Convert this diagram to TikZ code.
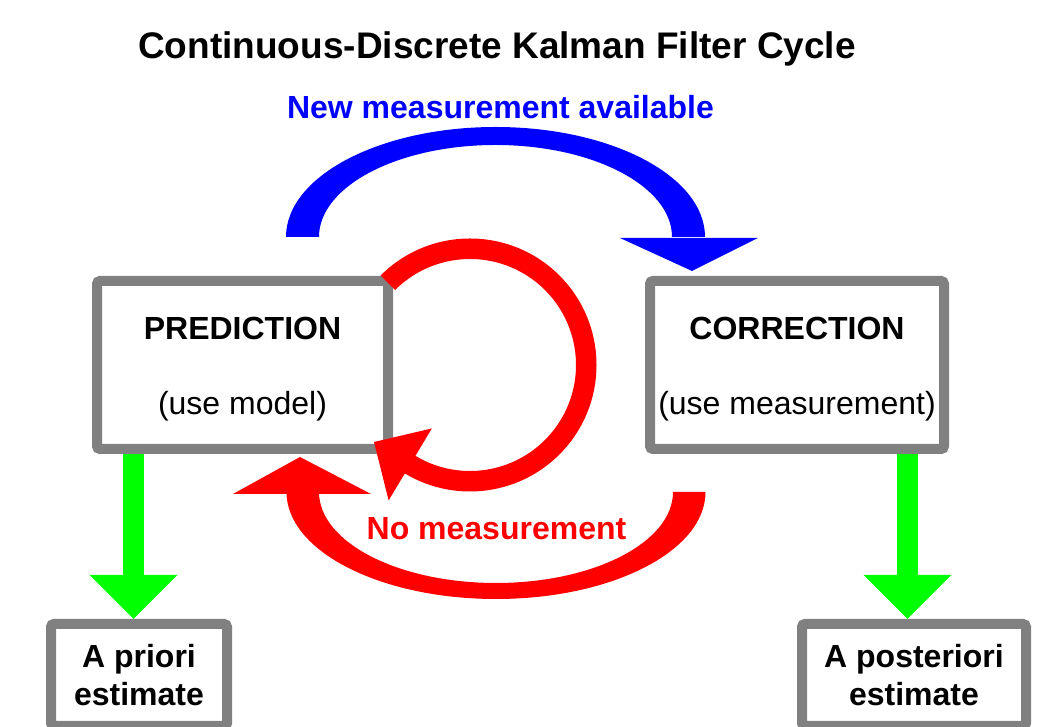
\documentclass[tikz,border=0pt]{standalone}
\usepackage{fontspec}
\setmainfont{Liberation Sans}
\usetikzlibrary{arrows.meta}
\usetikzlibrary{calc}
\newcommand{\tall}{\rule{0pt}{31pt}}
\tikzstyle{box}=[draw=gray, line width=10pt, rounded corners=3pt, fill=white, align=center, inner sep=0pt, font=\fontsize{32}{38}\selectfont]
\tikzstyle{stage}=[box, minimum height=168pt]
\tikzstyle{est}=[box, minimum height=102pt, font=\fontsize{32}{38}\selectfont\bfseries]
\tikzstyle{result}=[draw=green, line width=21pt, -{Triangle[length=44pt, width=85pt]}]
\tikzstyle{meas}=[fill=blue]
\tikzstyle{nomeas}=[fill=red]
\tikzstyle{lbl}=[anchor=base, font=\fontsize{32}{38}\selectfont\bfseries]

\begin{document}
\begin{tikzpicture}[x=1pt, y=1pt]
	\useasboundingbox (0,0) rectangle (1050,727);
	\node[lbl, font=\fontsize{37}{44}\selectfont\bfseries] (title) at (497,668) {Continuous-Discrete Kalman Filter Cycle};
	\node[stage, minimum width=291pt] (pred) at (242.5,362) {\tall\textbf{PREDICTION}\\[37pt](use model)};
	\node[stage, minimum width=294pt] (corr) at (797,362) {\tall\textbf{CORRECTION}\\[37pt](use measurement)};
	\node[est, minimum width=176pt] (apri) at (139,52) {A priori\\estimate};
	\node[est, minimum width=224pt] (post) at (914,52) {A posteriori\\estimate};
	% estimates
	\coordinate (g1) at ([xshift=-5.5pt]apri.north);
	\coordinate (g2) at ([xshift=-6.5pt]post.north);
	\draw[result] (pred.south -| g1) -- (g1);
	\draw[result] (corr.south -| g2) -- (g2);
	% new measurement
	\fill[meas] (286,490) arc[start angle=180, end angle=0, x radius=209.5, y radius=110] -- (672,490) arc[start angle=0, end angle=180, x radius=176.5, y radius=92] -- cycle;
	\fill[meas] (620,489) -- (758,489) -- (692,456) -- cycle;
	\node[lbl, text=blue] (new) at (500.5,608) {New measurement available};
	% no measurement
	\coordinate (loop) at (470,362);
	\fill[nomeas] ($(loop)+(135:126.5)$) arc[start angle=135, end angle=-123, radius=126.5] -- ($(loop)+(-123:106)$) arc[start angle=-123, end angle=135, radius=106] -- cycle;
	\fill[nomeas] ($(loop)+(-121:158)$) -- ($(loop)+(-121:74)$) -- (374,285) -- cycle;
	\fill[nomeas] (286.5,235) arc[start angle=180, end angle=360, x radius=209.5, y radius=107] -- (673,235) arc[start angle=360, end angle=180, x radius=177, y radius=91] -- cycle;
	\fill[nomeas] (233,233) -- (371,233) -- (300,270) -- cycle;
	\node[lbl, text=red] (none) at (496.5,187) {No measurement};
\end{tikzpicture}
\end{document}
